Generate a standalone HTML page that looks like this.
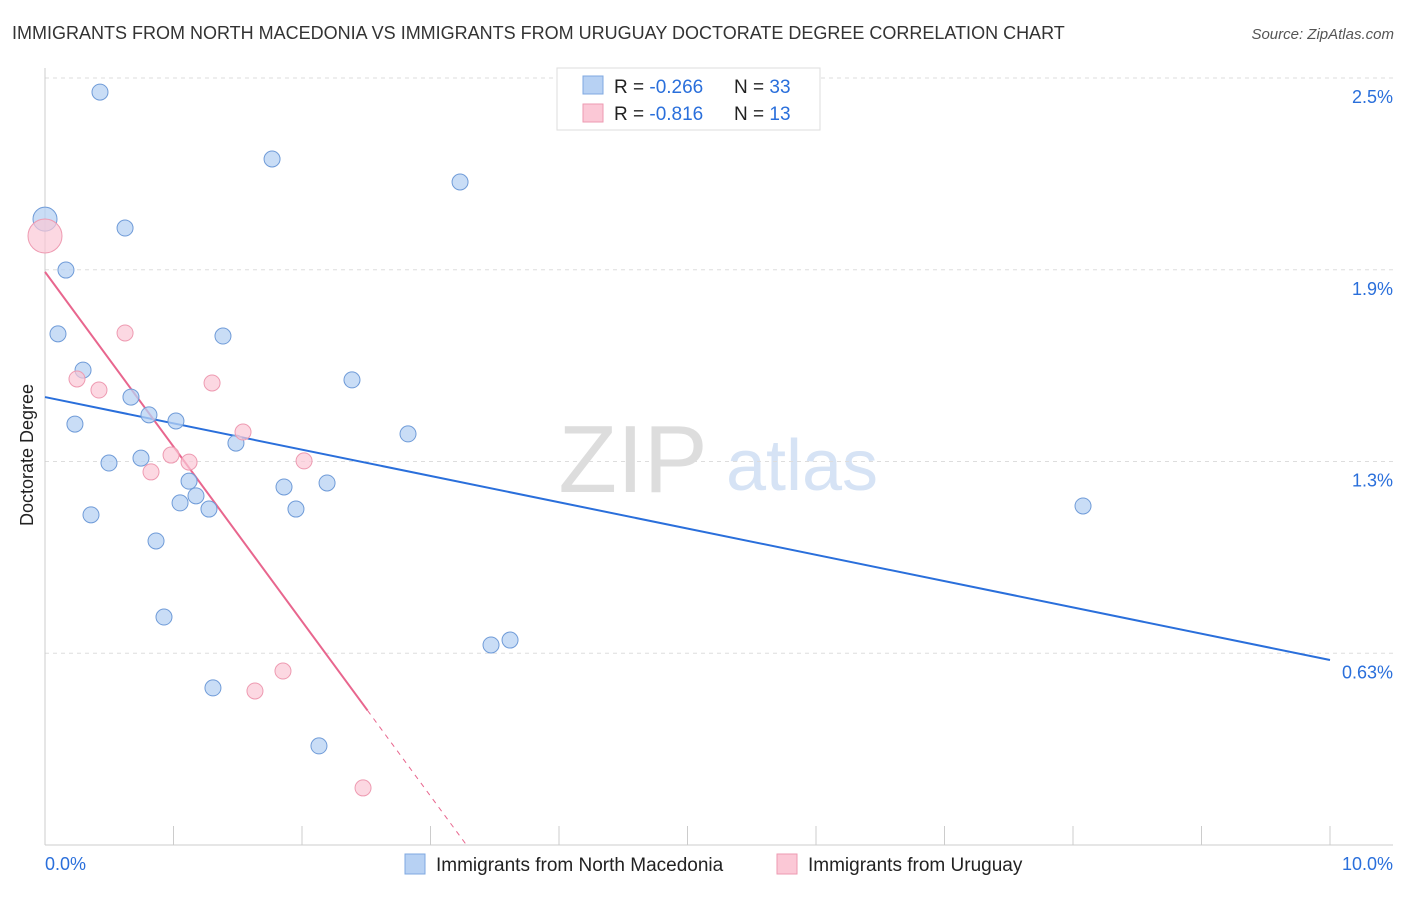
<!DOCTYPE html>
<html><head><meta charset="utf-8"><style>
body{margin:0;background:#fff;font-family:"Liberation Sans",sans-serif}
svg text{font-family:"Liberation Sans",sans-serif}
</style></head><body>
<svg id="c" width="1406" height="892" xmlns="http://www.w3.org/2000/svg">
<text x="12" y="39" font-size="18" fill="#333">IMMIGRANTS FROM NORTH MACEDONIA VS IMMIGRANTS FROM URUGUAY DOCTORATE DEGREE CORRELATION CHART</text>
<text x="1394" y="39" font-size="15" fill="#555" font-style="italic" text-anchor="end">Source: ZipAtlas.com</text>
<g>
<text x="633" y="492" font-size="96" fill="#ddd" font-family="Liberation Serif" text-anchor="middle">ZIP</text>
<text x="802" y="490" font-size="72" fill="#d6e3f5" text-anchor="middle">atlas</text>
</g>
<text transform="translate(33,455) rotate(-90)" font-size="18" fill="#222" text-anchor="middle">Doctorate Degree</text>
<g id="grid"></g><g id="axes"></g><g id="lines"></g><g id="pts"></g>
<g>
<rect x="557" y="68" width="263" height="62" fill="#fff" stroke="#ddd"/>
<rect x="583" y="76" width="20" height="18" fill="#b7d1f3" stroke="#7fa8e0"/>
<rect x="583" y="104" width="20" height="18" fill="#fbc8d6" stroke="#ee9ab1"/>
<text x="614" y="93" font-size="19" fill="#222">R = <tspan fill="#2a6fdb">-0.266</tspan></text>
<text x="734" y="93" font-size="19" fill="#222">N = <tspan fill="#2a6fdb">33</tspan></text>
<text x="614" y="120" font-size="19" fill="#222">R = <tspan fill="#2a6fdb"> -0.816</tspan></text>
<text x="734" y="120" font-size="19" fill="#222">N = <tspan fill="#2a6fdb"> 13</tspan></text>
</g>
<g>
<rect x="405" y="854" width="20" height="20" fill="#b7d1f3" stroke="#7fa8e0"/>
<text x="436" y="871" font-size="19" fill="#222">Immigrants from North Macedonia</text>
<rect x="777" y="854" width="20" height="20" fill="#fbc8d6" stroke="#ee9ab1"/>
<text x="808" y="871" font-size="19" fill="#222">Immigrants from Uruguay</text>
</g>
</svg>
<script>
const blueX=[0.428,1.767,3.23,0,0.623,0.163,0.101,1.385,0.296,2.389,0.669,0.809,1.019,0.233,2.825,1.486,0.498,0.747,1.121,1.86,2.195,1.175,1.051,1.276,1.953,0.358,0.864,8.078,0.926,3.471,3.619,1.307,2.132];
const blueY=[2.454,2.236,2.161,2.04,2.011,1.874,1.666,1.659,1.548,1.516,1.46,1.402,1.382,1.372,1.34,1.31,1.245,1.261,1.186,1.167,1.18,1.138,1.115,1.095,1.095,1.076,0.991,1.105,0.743,0.652,0.668,0.512,0.323];
const pinkX=[0,0.623,0.249,0.42,1.3,1.541,0.981,1.121,0.825,2.016,1.852,1.634,2.475];
const pinkY=[1.985,1.669,1.519,1.483,1.506,1.346,1.271,1.248,1.216,1.252,0.567,0.502,0.186];
const blueTrend=[1.46,-0.0857];
const pinkTrend=[1.868,-0.5695];
const yTicks=[2.5,1.875,1.25,0.625];
const yTickLabels=["2.5%","1.9%","1.3%","0.63%"];
const xTickLabels=["0.0%","10.0%"];
const X=v=>45+v*128.5, Y=v=>845-v*306.8;
const NS="http://www.w3.org/2000/svg";
function mk(p,t,a){const e=document.createElementNS(NS,t);for(const k in a)e.setAttribute(k,a[k]);document.getElementById(p).appendChild(e);return e;}
yTicks.forEach((v,i)=>{
 const l=mk('grid','line',{x1:45,x2:1393,y1:Y(v),y2:Y(v),stroke:'#ddd','stroke-dasharray':'4,4'});
 
 
 const t=mk('grid','text',{x:1393,y:Y(v)+25,'font-size':18,fill:'#2a6fdb','text-anchor':'end'});t.textContent=yTickLabels[i];
 
 
});
let a=mk('axes','line',{x1:45,x2:45,y1:68,y2:845,stroke:'#ccc'});


a=mk('axes','line',{x1:45,x2:1393,y1:845,y2:845,stroke:'#ccc'});


for(let i=1;i<=10;i++){const t=mk('axes','line',{x1:X(i),x2:X(i),y1:826,y2:845,stroke:'#ccc'});
 
 }
[0,10].forEach((v,i)=>{const t=mk('axes','text',{x:i?1393:45,y:870,'font-size':18,fill:'#2a6fdb','text-anchor':i?'end':'start'});t.textContent=xTickLabels[i];
 
 });
let bl=mk('lines','line',{x1:X(0),y1:Y(blueTrend[0]),x2:X(10),y2:Y(blueTrend[0]+blueTrend[1]*10),stroke:'#2a6fdb','stroke-width':2});


const pe=2.51, pz=-pinkTrend[0]/pinkTrend[1];
let pl=mk('lines','line',{x1:X(0),y1:Y(pinkTrend[0]),x2:X(pe),y2:Y(pinkTrend[0]+pinkTrend[1]*pe),stroke:'#e8668e','stroke-width':2});


pl=mk('lines','line',{x1:X(pe),y1:Y(pinkTrend[0]+pinkTrend[1]*pe),x2:X(pz),y2:Y(0),stroke:'#e8668e','stroke-width':1,'stroke-dasharray':'5,5'});


blueX.forEach((x,i)=>{const c=mk('pts','circle',{cx:X(x),cy:Y(blueY[i]),r:x===0?12:8,fill:'#b7d1f3','fill-opacity':0.75,stroke:'#6f9bd8','stroke-width':1});
 
 });
pinkX.forEach((x,i)=>{const c=mk('pts','circle',{cx:X(x),cy:Y(pinkY[i]),r:x===0?17:8,fill:'#fbc8d6','fill-opacity':0.7,stroke:'#ee9ab1','stroke-width':1});
 
 });
</script>
</body></html>
